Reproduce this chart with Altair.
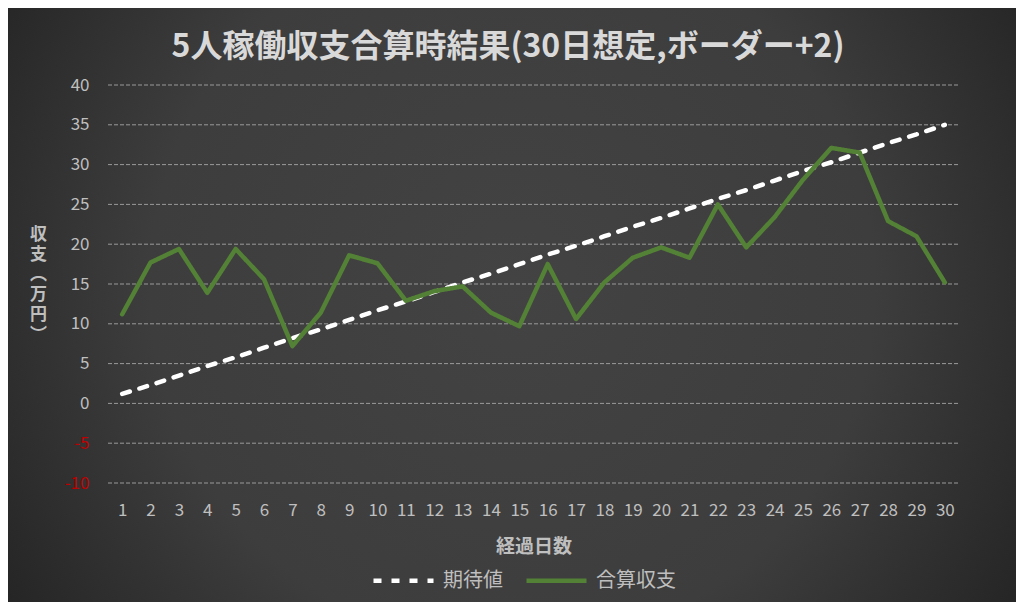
import altair as alt
import pandas as pd

days = [1, 2, 3, 4, 5, 6, 7, 8, 9, 10, 11, 12, 13, 14, 15,
        16, 17, 18, 19, 20, 21, 22, 23, 24, 25, 26, 27, 28, 29, 30]
expected = [1.2, 2.3, 3.5, 4.7, 5.8, 7.0, 8.2, 9.3, 10.5, 11.7, 12.8, 14.0, 15.2, 16.3, 17.5,
            18.7, 19.8, 21.0, 22.2, 23.3, 24.5, 25.7, 26.8, 28.0, 29.2, 30.3, 31.5, 32.7, 33.8, 35.0]
total = [11.2, 17.7, 19.4, 13.9, 19.4, 15.6, 7.2, 11.4, 18.6, 17.6, 12.9, 14.1, 14.7, 11.4, 9.7,
         17.5, 10.6, 15.2, 18.3, 19.6, 18.3, 25.0, 19.6, 23.4, 28.1, 32.1, 31.5, 22.9, 21.0, 15.2]
series_names = ["期待値", "合算収支"]
y_ticks = [-10, -5, 0, 5, 10, 15, 20, 25, 30, 35, 40]

title_text = "5人稼働収支合算時結果(30日想定,ボーダー+2)"
x_title = "経過日数"
y_title = ["収", "支", "︵", "万", "円", "︶"]

rows = []
for d, e in zip(days, expected):
    rows.append({"day": d, "value": e, "series": series_names[0]})
for d, t in zip(days, total):
    rows.append({"day": d, "value": t, "series": series_names[1]})
df = pd.DataFrame(rows)
grid_df = pd.DataFrame({"value": y_ticks})

FONT = "Noto Sans CJK JP"
LABEL = "#bfbfbf"

bg = alt.Chart(alt.Data(values=[{}])).mark_rect(
    fill={
        "gradient": "radial",
        "x1": 0.5, "y1": 0.48, "r1": 0,
        "x2": 0.5, "y2": 0.48, "r2": 0.72,
        "stops": [
            {"offset": 0, "color": "#434343"},
            {"offset": 0.5, "color": "#3d3d3d"},
            {"offset": 1, "color": "#181818"},
        ],
    }
).encode(
    x=alt.value(-100), x2=alt.value(908), y=alt.value(-77), y2=alt.value(517)
)

title = alt.Chart(alt.Data(values=[{}])).mark_text(
    text=title_text, font=FONT, fontSize=32, fontWeight="bold", color="#d9d9d9",
    align="center", baseline="middle",
).encode(x=alt.value(400), y=alt.value(-38))

yscale = alt.Scale(domain=[-10, 40], nice=False, zero=False)
yaxis = alt.Axis(
    values=y_ticks, title=y_title, titleAngle=0, titleX=-70, titleY=149,
    titleAlign="center", titleBaseline="middle", titleLineHeight=20,
    titleFont=FONT, titleFontSize=17, titleFontWeight="bold", titleColor=LABEL,
    domain=False, ticks=False, labelPadding=19, labelFontSize=17, labelFont=FONT,
    labelExpr="toString(datum.value)",
    labelColor={"condition": {"test": "datum.value < 0", "value": "#c00000"}, "value": LABEL},
    grid=False, zindex=1,
)

grid = alt.Chart(grid_df).mark_rule(
    color="#9a9a9a", strokeWidth=1, strokeDash=[4, 2]
).encode(
    y=alt.Y("value:Q", scale=yscale, axis=yaxis),
    x=alt.value(0), x2=alt.value(851),
)

xenc = alt.X(
    "day:O",
    scale=alt.Scale(type="point", padding=0.5),
    sort=days,
    axis=alt.Axis(
        title=x_title, labelAngle=0, grid=False, domain=False, ticks=False,
        labelPadding=19, labelFontSize=17, labelColor=LABEL, labelFont=FONT,
        titleFont=FONT, titleFontSize=19, titleFontWeight="bold", titleColor=LABEL,
        titlePadding=19, zindex=1,
    ),
)
yenc = alt.Y("value:Q", scale=yscale, axis=yaxis)
color = alt.Color(
    "series:N",
    scale=alt.Scale(domain=series_names, range=["#ffffff", "#538135"]),
    legend=alt.Legend(
        title=None, orient="none", legendX=263, legendY=463, direction="horizontal",
        symbolType="stroke", symbolSize=3600, symbolStrokeWidth=4.5,
        labelFont=FONT, labelFontSize=20, labelColor=LABEL, labelOffset=7,
        columnPadding=14, labelLimit=300,
    ),
)
dash = alt.StrokeDash(
    "series:N",
    scale=alt.Scale(domain=series_names, range=[[8, 10], [1, 0]]),
    legend=None,
)

line_exp = alt.Chart(df).transform_filter(
    alt.datum.series == series_names[0]
).mark_line(strokeWidth=4.5, strokeCap="round", strokeJoin="round").encode(
    x=xenc, y=yenc, color=color, strokeDash=dash
)
line_tot = alt.Chart(df).transform_filter(
    alt.datum.series == series_names[1]
).mark_line(strokeWidth=4.5, strokeCap="round", strokeJoin="round").encode(
    x=xenc, y=yenc, color=color, strokeDash=dash
)

chart = alt.layer(bg, title, grid, line_exp, line_tot).properties(
    width=851, height=398,
    autosize=alt.AutoSizeParams(type="none"),
    padding={"left": 100, "top": 77, "right": 57, "bottom": 119},
    background="#181818",
).configure_view(stroke=None)

chart.save("out.html", embed_options={"renderer": "svg", "actions": False})
